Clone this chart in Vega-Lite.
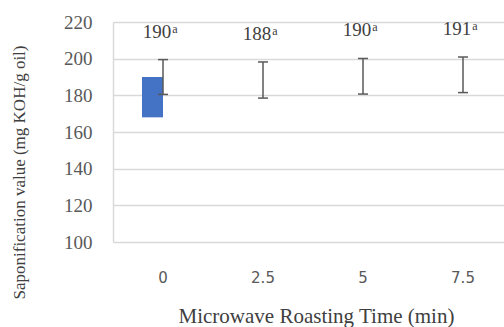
{
  "$schema": "https://vega.github.io/schema/vega-lite/v6.json",
  "autosize": "none",
  "width": 391,
  "height": 220,
  "padding": {"left": 113, "top": 22, "right": 0, "bottom": 85},
  "background": "white",
  "config": {
    "font": "Liberation Serif",
    "view": {"stroke": null},
    "axis": {"labelFont": "Liberation Serif", "titleFont": "Liberation Serif"},
    "axisY": {
      "labelOverlap": false,
      "labelBound": false,
      "labelFlush": false,
      "tickCount": 7,
      "labelFont": "Liberation Serif",
      "labelFontSize": 19,
      "labelColor": "#595959",
      "labelPadding": 21,
      "ticks": false,
      "domain": true,
      "domainColor": "#d9d9d9",
      "domainWidth": 1.5,
      "grid": true,
      "gridColor": "#d9d9d9",
      "gridWidth": 1.5,
      "titleFont": "Liberation Serif",
      "titleFontSize": 17,
      "titleFontWeight": "normal",
      "titleColor": "#404040"
    }
  },
  "datasets": {
    "stats": [
      {"time": "0", "mean": 190, "lo": 180.5, "hi": 199.5, "label": "190", "sig": "a"},
      {"time": "2.5", "mean": 188, "lo": 178.5, "hi": 198.2, "label": "188", "sig": "a"},
      {"time": "5", "mean": 190, "lo": 180.7, "hi": 200.1, "label": "190", "sig": "a"},
      {"time": "7.5", "mean": 191, "lo": 181.5, "hi": 200.9, "label": "191", "sig": "a"}
    ],
    "bars": [
      {"time": "0", "series": "A", "value": 190, "base": 168}
    ]
  },
  "encoding": {
    "x": {
      "field": "time",
      "type": "nominal",
      "sort": ["0", "2.5", "5", "7.5"],
      "scale": {"domain": ["0", "2.5", "5", "7.5"], "range": [0, 400], "paddingInner": 0.58, "paddingOuter": 0.29},
      "axis": {
        "title": "Microwave Roasting Time (min)",
        "labelAngle": 0,
        "labelFont": "DejaVu Sans",
        "labelFontSize": 15,
        "labelColor": "#595959",
        "labelPadding": 28,
        "labelOverlap": false,
        "ticks": false,
        "domain": false,
        "grid": false,
        "titleFont": "Liberation Serif",
        "titleFontSize": 21,
        "titleFontWeight": "normal",
        "titleColor": "#404040",
        "titleX": 203,
        "titleY": 80,
        "titleAlign": "center",
        "titleBaseline": "alphabetic"
      }
    }
  },
  "layer": [
    {
      "data": {"name": "stats"},
      "mark": {"type": "rule", "opacity": 0},
      "encoding": {
        "y": {
          "field": "mean",
          "type": "quantitative",
          "scale": {"domain": [100, 220], "nice": false, "zero": false},
          "axis": {
            "values": [100, 120, 140, 160, 180, 200, 220],
            "title": "Saponification value (mg KOH/g oil)",
            "titleX": -94,
            "titleY": 150,
            "titleAlign": "center",
            "titleBaseline": "middle",
            "titleAngle": -90,
            "labelFont": "Liberation Serif",
            "labelFontSize": 19
          }
        }
      }
    },
    {
      "data": {"name": "bars"},
      "mark": {"type": "bar", "color": "#4472C4"},
      "encoding": {
        "xOffset": {"field": "series", "type": "nominal", "scale": {"domain": ["A", "B"]}},
        "y": {"field": "value", "type": "quantitative"},
        "y2": {"field": "base"}
      }
    },
    {
      "data": {"name": "stats"},
      "mark": {"type": "rule", "color": "#595959", "strokeWidth": 1.5},
      "encoding": {
        "y": {"field": "lo", "type": "quantitative"},
        "y2": {"field": "hi"}
      }
    },
    {
      "data": {"name": "stats"},
      "mark": {"type": "tick", "color": "#595959", "size": 10, "thickness": 1.5, "opacity": 1},
      "encoding": {
        "y": {"field": "lo", "type": "quantitative"}
      }
    },
    {
      "data": {"name": "stats"},
      "mark": {"type": "tick", "color": "#595959", "size": 10, "thickness": 1.5, "opacity": 1},
      "encoding": {
        "y": {"field": "hi", "type": "quantitative"}
      }
    },
    {
      "data": {"name": "stats"},
      "mark": {"type": "text", "font": "Liberation Serif", "fontSize": 19, "color": "#404040", "baseline": "alphabetic", "align": "center", "dx": -6, "dy": -22},
      "encoding": {
        "y": {"field": "hi", "type": "quantitative"},
        "text": {"field": "label"}
      }
    },
    {
      "data": {"name": "stats"},
      "mark": {"type": "text", "font": "Liberation Serif", "fontSize": 12, "color": "#404040", "baseline": "alphabetic", "align": "center", "dx": 12, "dy": -27},
      "encoding": {
        "y": {"field": "hi", "type": "quantitative"},
        "text": {"field": "sig"}
      }
    }
  ]
}
